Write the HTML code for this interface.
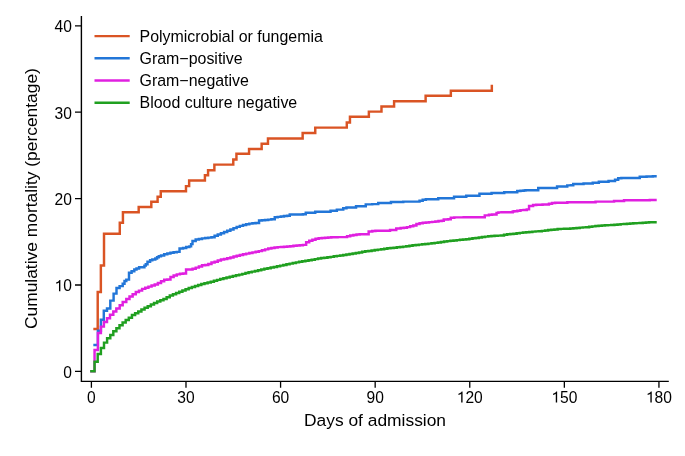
<!DOCTYPE html>
<html><head><meta charset="utf-8"><title>Cumulative mortality</title><style>
html,body{margin:0;padding:0;background:#fff;width:685px;height:456px;overflow:hidden;}
svg{display:block;will-change:transform;}
</style></head><body>
<svg width="685" height="456" viewBox="0 0 685 456">
<rect width="685" height="456" fill="#fff"/>
<path d="M81.4,16 L81.4,381.4 L668.8,381.4" fill="none" stroke="#000" stroke-width="1.4" stroke-linejoin="miter" stroke-linecap="butt"/>
<path d="M75,371.40 L81.4,371.40 M75,285.00 L81.4,285.00 M75,198.60 L81.4,198.60 M75,112.20 L81.4,112.20 M75,25.80 L81.4,25.80 M91.40,381.4 L91.40,387.8 M185.99,381.4 L185.99,387.8 M280.58,381.4 L280.58,387.8 M375.17,381.4 L375.17,387.8 M469.76,381.4 L469.76,387.8 M564.35,381.4 L564.35,387.8 M658.94,381.4 L658.94,387.8" stroke="#000" stroke-width="1.3" fill="none"/>
<g font-family='"Liberation Sans", sans-serif' font-size="15.6" fill="#000">
<text x="63.22" y="377.70">0</text>
<path d="M763,0 L583,0 L583,1150 Q518,1090 412,1050 Q307,1012 223,995 L223,1175 Q374,1205 487,1290 Q600,1377 647,1472 L763,1472 Z" transform="translate(54.55,291.30) scale(0.007617,-0.007617)"/>
<text x="63.22" y="291.30">0</text>
<text x="54.55" y="204.90">20</text>
<text x="54.55" y="118.50">30</text>
<text x="54.55" y="32.10">40</text>
<text x="87.06" y="402.60">0</text>
<text x="177.31" y="402.60">30</text>
<text x="271.90" y="402.60">60</text>
<text x="366.49" y="402.60">90</text>
<path d="M763,0 L583,0 L583,1150 Q518,1090 412,1050 Q307,1012 223,995 L223,1175 Q374,1205 487,1290 Q600,1377 647,1472 L763,1472 Z" transform="translate(456.75,402.60) scale(0.007617,-0.007617)"/>
<text x="465.42" y="402.60">20</text>
<path d="M763,0 L583,0 L583,1150 Q518,1090 412,1050 Q307,1012 223,995 L223,1175 Q374,1205 487,1290 Q600,1377 647,1472 L763,1472 Z" transform="translate(551.34,402.60) scale(0.007617,-0.007617)"/>
<text x="560.01" y="402.60">50</text>
<path d="M763,0 L583,0 L583,1150 Q518,1090 412,1050 Q307,1012 223,995 L223,1175 Q374,1205 487,1290 Q600,1377 647,1472 L763,1472 Z" transform="translate(645.93,402.60) scale(0.007617,-0.007617)"/>
<text x="654.60" y="402.60">80</text>
</g>
<text x="375.0" y="425.9" text-anchor="middle" font-family='"Liberation Sans", sans-serif' font-size="17.4" fill="#000">Days of admission</text>
<text transform="translate(37.1,198.6) rotate(-90)" text-anchor="middle" font-family='"Liberation Sans", sans-serif' font-size="17.4" fill="#000">Cumulative mortality (percentage)</text>
<path d="M94.55,329.00 L97.71,329.00 L97.71,292.00 L100.86,292.00 L100.86,265.50 L104.01,265.50 L104.01,233.70 L119.78,233.70 L119.78,222.80 L122.93,222.80 L122.93,212.20 L138.69,212.20 L138.69,207.00 L151.31,207.00 L151.31,201.70 L157.61,201.70 L157.61,196.70 L160.77,196.70 L160.77,191.20 L185.99,191.20 L185.99,186.10 L189.14,186.10 L189.14,180.40 L204.91,180.40 L204.91,175.30 L208.06,175.30 L208.06,170.20 L214.37,170.20 L214.37,164.60 L233.28,164.60 L233.28,159.50 L236.44,159.50 L236.44,153.80 L249.05,153.80 L249.05,148.90 L261.66,148.90 L261.66,143.70 L267.97,143.70 L267.97,138.40 L302.65,138.40 L302.65,132.90 L315.26,132.90 L315.26,127.60 L346.79,127.60 L346.79,122.40 L349.95,122.40 L349.95,116.80 L368.86,116.80 L368.86,111.60 L381.48,111.60 L381.48,106.50 L394.09,106.50 L394.09,101.20 L425.62,101.20 L425.62,95.70 L450.84,95.70 L450.84,90.70 L491.83,90.70 L491.83,85.90" fill="none" stroke="#da5424" stroke-width="2.45" stroke-linecap="square" stroke-linejoin="miter"/>
<path d="M94.55,345.00 L97.90,345.00 L97.90,330.80 L100.90,330.80 L100.90,319.80 L103.80,319.80 L103.80,310.70 L107.00,310.70 L107.00,308.50 L110.30,308.50 L110.30,300.60 L113.60,300.60 L113.60,293.60 L116.50,293.60 L116.50,287.90 L119.60,287.90 L119.60,286.10 L122.70,286.10 L122.70,283.70 L124.50,283.70 L124.50,281.00 L126.30,281.00 L126.30,279.60 L129.00,279.60 L129.00,272.80 L131.60,272.80 L131.60,271.20 L134.30,271.20 L134.30,269.50 L136.50,269.50 L136.50,268.40 L139.10,268.40 L139.10,267.30 L144.40,267.30 L144.40,265.60 L145.80,265.60 L145.80,264.30 L147.50,264.30 L147.50,261.70 L150.10,261.70 L150.10,260.30 L152.30,260.30 L152.30,259.40 L155.30,259.40 L155.30,258.50 L157.10,258.50 L157.10,257.20 L158.80,257.20 L158.80,256.30 L161.00,256.30 L161.00,255.50 L164.15,255.50 L164.15,254.17 L167.31,254.17 L167.31,253.45 L170.46,253.45 L170.46,252.80 L173.61,252.80 L173.61,252.29 L176.76,252.29 L176.76,251.89 L179.55,251.89 L179.55,248.46 L183.07,248.46 L183.07,248.04 L186.22,248.04 L186.22,246.90 L189.38,246.90 L189.38,246.37 L191.10,246.37 L191.10,244.10 L192.50,244.10 L192.50,241.06 L195.68,241.06 L195.68,239.46 L198.84,239.46 L198.84,238.92 L201.99,238.92 L201.99,238.37 L205.14,238.37 L205.14,237.98 L208.29,237.98 L208.29,237.61 L211.45,237.61 L211.45,237.24 L214.60,237.24 L214.60,235.77 L217.75,235.77 L217.75,234.47 L220.91,234.47 L220.91,233.25 L224.06,233.25 L224.06,232.00 L227.21,232.00 L227.21,230.72 L230.37,230.72 L230.37,229.42 L233.52,229.42 L233.52,228.13 L236.67,228.13 L236.67,226.89 L239.82,226.89 L239.82,225.85 L242.98,225.85 L242.98,225.06 L246.13,225.06 L246.13,224.27 L249.28,224.27 L249.28,223.61 L252.44,223.61 L252.44,223.27 L255.59,223.27 L255.59,222.92 L259.05,222.92 L259.05,220.49 L261.90,220.49 L261.90,220.21 L265.05,220.21 L265.05,219.92 L268.20,219.92 L268.20,219.62 L271.35,219.62 L271.35,219.33 L274.75,219.33 L274.75,217.25 L277.66,217.25 L277.66,216.87 L280.81,216.87 L280.81,216.48 L283.97,216.48 L283.97,216.09 L287.12,216.09 L287.12,215.73 L289.75,215.73 L289.75,214.48 L302.89,214.48 L302.89,214.32 L305.75,214.32 L305.75,212.70 L315.25,212.70 L315.25,211.80 L330.55,211.80 L330.55,210.80 L336.85,210.80 L336.85,209.60 L343.25,209.60 L343.25,208.20 L346.45,208.20 L346.45,207.50 L356.05,207.50 L356.05,206.20 L365.75,206.20 L365.75,204.35 L372.25,204.35 L372.25,204.14 L378.25,204.14 L378.25,202.90 L390.95,202.90 L390.95,202.00 L403.25,202.00 L403.25,201.60 L419.55,201.60 L419.55,200.68 L422.70,200.68 L422.70,199.74 L425.85,199.74 L425.85,199.30 L438.25,199.30 L438.25,198.20 L454.05,198.20 L454.05,196.70 L466.25,196.70 L466.25,195.80 L479.45,195.80 L479.45,193.80 L491.55,193.80 L491.55,193.00 L504.25,193.00 L504.25,192.30 L517.25,192.30 L517.25,190.91 L520.44,190.91 L520.44,190.70 L523.60,190.70 L523.60,190.53 L525.50,190.53 L525.50,190.30 L538.25,190.30 L538.25,188.00 L557.05,188.00 L557.05,186.58 L561.43,186.58 L561.43,186.40 L567.25,186.40 L567.25,185.39 L570.89,185.39 L570.89,185.17 L573.25,185.17 L573.25,184.00 L583.55,184.00 L583.55,183.40 L592.75,183.40 L592.75,182.70 L598.85,182.70 L598.85,181.80 L608.55,181.80 L608.55,180.95 L615.03,180.95 L615.03,179.78 L618.19,179.78 L618.19,178.26 L621.34,178.26 L621.34,177.90 L639.75,177.90 L639.75,176.66 L646.56,176.66 L646.56,176.49 L652.87,176.49 L652.87,176.33 L655.50,176.33" fill="none" stroke="#2276d8" stroke-width="2.45" stroke-linecap="square" stroke-linejoin="miter"/>
<path d="M91.40,371.30 L94.55,371.30 L94.55,349.90 L97.90,349.90 L97.90,332.90 L100.90,332.90 L100.90,326.60 L103.90,326.60 L103.90,322.00 L107.00,322.00 L107.00,318.30 L110.00,318.30 L110.00,314.80 L113.30,314.80 L113.30,311.50 L116.30,311.50 L116.30,308.50 L119.70,308.50 L119.70,305.20 L122.70,305.20 L122.70,302.00 L126.30,302.00 L126.30,299.00 L129.50,299.00 L129.50,296.40 L132.65,296.40 L132.65,294.32 L135.81,294.32 L135.81,291.99 L138.96,291.99 L138.96,290.63 L142.11,290.63 L142.11,288.86 L145.26,288.86 L145.26,287.65 L148.42,287.65 L148.42,286.61 L151.57,286.61 L151.57,285.40 L154.72,285.40 L154.72,284.43 L157.88,284.43 L157.88,283.05 L161.03,283.05 L161.03,281.32 L164.18,281.32 L164.18,279.82 L167.34,279.82 L167.34,279.48 L170.49,279.48 L170.49,276.97 L173.64,276.97 L173.64,275.42 L176.79,275.42 L176.79,274.35 L179.95,274.35 L179.95,273.70 L183.10,273.70 L183.10,273.50 L186.05,273.50 L186.05,269.55 L192.56,269.55 L192.56,268.65 L195.71,268.65 L195.71,267.60 L198.87,267.60 L198.87,266.51 L202.02,266.51 L202.02,265.17 L205.17,265.17 L205.17,264.93 L208.32,264.93 L208.32,264.07 L211.48,264.07 L211.48,262.56 L214.63,262.56 L214.63,261.76 L217.78,261.76 L217.78,260.52 L220.94,260.52 L220.94,259.44 L224.09,259.44 L224.09,258.90 L227.24,258.90 L227.24,258.23 L230.40,258.23 L230.40,257.42 L233.55,257.42 L233.55,256.59 L236.70,256.59 L236.70,255.69 L239.85,255.69 L239.85,254.91 L243.01,254.91 L243.01,254.26 L246.16,254.26 L246.16,253.62 L249.31,253.62 L249.31,252.99 L252.47,252.99 L252.47,252.36 L255.62,252.36 L255.62,251.73 L258.77,251.73 L258.77,251.11 L261.93,251.11 L261.93,250.32 L265.08,250.32 L265.08,249.37 L268.23,249.37 L268.23,248.50 L271.38,248.50 L271.38,248.00 L274.54,248.00 L274.54,247.50 L277.69,247.50 L277.69,247.11 L280.84,247.11 L280.84,246.90 L284.00,246.90 L284.00,246.68 L287.15,246.68 L287.15,246.46 L290.30,246.46 L290.30,246.16 L293.46,246.16 L293.46,245.83 L296.61,245.83 L296.61,245.49 L299.76,245.49 L299.76,245.18 L302.91,245.18 L302.91,244.89 L306.15,244.89 L306.15,242.19 L309.22,242.19 L309.22,240.75 L312.37,240.75 L312.37,239.73 L315.53,239.73 L315.53,238.72 L318.68,238.72 L318.68,238.16 L321.83,238.16 L321.83,237.92 L324.99,237.92 L324.99,237.68 L328.14,237.68 L328.14,237.50 L331.29,237.50 L331.29,237.32 L337.60,237.32 L337.60,237.12 L347.06,237.12 L347.06,236.19 L350.21,236.19 L350.21,235.57 L353.36,235.57 L353.36,235.00 L356.52,235.00 L356.52,234.51 L359.67,234.51 L359.67,234.30 L368.65,234.30 L368.65,231.52 L372.28,231.52 L372.28,230.92 L375.43,230.92 L375.43,230.70 L390.05,230.70 L390.05,230.00 L396.25,230.00 L396.25,228.49 L400.66,228.49 L400.66,228.09 L403.81,228.09 L403.81,227.66 L406.96,227.66 L406.96,227.13 L410.12,227.13 L410.12,226.32 L413.27,226.32 L413.27,225.43 L416.42,225.43 L416.42,223.99 L419.58,223.99 L419.58,223.28 L422.73,223.28 L422.73,222.84 L425.88,222.84 L425.88,222.41 L429.04,222.41 L429.04,222.13 L432.19,222.13 L432.19,221.86 L435.34,221.86 L435.34,221.47 L438.49,221.47 L438.49,221.07 L441.65,221.07 L441.65,220.79 L443.75,220.79 L443.75,219.46 L447.95,219.46 L447.95,219.20 L450.75,219.20 L450.75,217.68 L454.26,217.68 L454.26,217.37 L463.72,217.37 L463.72,217.21 L484.75,217.21 L484.75,215.35 L488.94,215.35 L488.94,214.65 L492.10,214.65 L492.10,214.44 L496.55,214.44 L496.55,212.87 L498.40,212.87 L498.40,212.38 L501.55,212.38 L501.55,212.20 L512.75,212.20 L512.75,211.53 L514.17,211.53 L514.17,211.17 L517.32,211.17 L517.32,210.66 L520.47,210.66 L520.47,210.13 L523.63,210.13 L523.63,209.90 L526.78,209.90 L526.78,209.38 L529.05,209.38 L529.05,206.00 L533.08,206.00 L533.08,205.09 L536.24,205.09 L536.24,204.69 L542.54,204.69 L542.54,204.47 L548.95,204.47 L548.95,203.72 L552.00,203.72 L552.00,203.06 L555.16,203.06 L555.16,202.70 L567.35,202.70 L567.35,202.20 L595.55,202.20 L595.55,201.60 L614.05,201.60 L614.05,200.90 L624.05,200.90 L624.05,200.19 L649.75,200.19 L649.75,200.03 L655.50,200.03" fill="none" stroke="#e020e0" stroke-width="2.45" stroke-linecap="square" stroke-linejoin="miter"/>
<path d="M91.40,371.30 L94.55,371.30 L94.55,361.80 L97.70,361.80 L97.70,353.90 L100.90,353.90 L100.90,348.00 L104.00,348.00 L104.00,342.60 L107.10,342.60 L107.10,338.30 L110.30,338.30 L110.30,335.00 L113.30,335.00 L113.30,331.30 L116.40,331.30 L116.40,328.30 L119.50,328.30 L119.50,325.30 L122.60,325.30 L122.60,322.40 L125.70,322.40 L125.70,320.00 L128.80,320.00 L128.80,317.80 L131.95,317.80 L131.95,315.08 L135.11,315.08 L135.11,313.31 L138.26,313.31 L138.26,311.41 L141.41,311.41 L141.41,309.54 L144.56,309.54 L144.56,307.82 L147.72,307.82 L147.72,306.15 L150.87,306.15 L150.87,304.58 L154.02,304.58 L154.02,303.05 L157.18,303.05 L157.18,301.58 L160.33,301.58 L160.33,300.24 L163.48,300.24 L163.48,298.97 L166.64,298.97 L166.64,297.17 L169.79,297.17 L169.79,295.48 L172.94,295.48 L172.94,294.25 L176.09,294.25 L176.09,293.01 L179.25,293.01 L179.25,291.76 L182.40,291.76 L182.40,290.50 L185.55,290.50 L185.55,289.22 L188.71,289.22 L188.71,288.05 L191.86,288.05 L191.86,286.96 L195.01,286.96 L195.01,285.96 L198.17,285.96 L198.17,284.98 L201.32,284.98 L201.32,284.09 L204.47,284.09 L204.47,283.25 L207.62,283.25 L207.62,282.49 L210.78,282.49 L210.78,281.65 L213.93,281.65 L213.93,280.74 L217.08,280.74 L217.08,279.89 L220.24,279.89 L220.24,279.08 L223.39,279.08 L223.39,278.31 L226.54,278.31 L226.54,277.57 L229.70,277.57 L229.70,276.76 L232.85,276.76 L232.85,275.95 L236.00,275.95 L236.00,275.30 L239.15,275.30 L239.15,274.62 L242.31,274.62 L242.31,273.87 L245.46,273.87 L245.46,273.07 L248.61,273.07 L248.61,272.26 L251.77,272.26 L251.77,271.63 L254.92,271.63 L254.92,271.04 L258.07,271.04 L258.07,270.24 L261.23,270.24 L261.23,269.44 L264.38,269.44 L264.38,268.80 L267.53,268.80 L267.53,268.17 L270.68,268.17 L270.68,267.57 L273.84,267.57 L273.84,266.95 L276.99,266.95 L276.99,266.30 L280.14,266.30 L280.14,265.62 L283.30,265.62 L283.30,264.93 L286.45,264.93 L286.45,264.27 L289.60,264.27 L289.60,263.62 L292.76,263.62 L292.76,262.98 L295.91,262.98 L295.91,262.36 L299.06,262.36 L299.06,261.82 L302.21,261.82 L302.21,261.28 L305.37,261.28 L305.37,260.75 L308.52,260.75 L308.52,260.24 L311.67,260.24 L311.67,259.75 L314.83,259.75 L314.83,259.14 L317.98,259.14 L317.98,258.49 L321.13,258.49 L321.13,258.07 L324.29,258.07 L324.29,257.70 L327.44,257.70 L327.44,257.32 L330.59,257.32 L330.59,256.87 L333.75,256.87 L333.75,256.33 L336.90,256.33 L336.90,255.89 L340.05,255.89 L340.05,255.51 L343.20,255.51 L343.20,255.05 L346.36,255.05 L346.36,254.57 L349.51,254.57 L349.51,254.08 L352.66,254.08 L352.66,253.59 L355.82,253.59 L355.82,252.99 L358.97,252.99 L358.97,252.40 L362.12,252.40 L362.12,251.83 L365.28,251.83 L365.28,251.34 L368.43,251.34 L368.43,250.91 L371.58,250.91 L371.58,250.48 L374.73,250.48 L374.73,250.05 L377.89,250.05 L377.89,249.62 L381.04,249.62 L381.04,249.18 L384.19,249.18 L384.19,248.70 L387.35,248.70 L387.35,248.25 L390.50,248.25 L390.50,247.98 L393.65,247.98 L393.65,247.68 L396.81,247.68 L396.81,247.30 L399.96,247.30 L399.96,246.95 L403.11,246.95 L403.11,246.63 L406.26,246.63 L406.26,246.16 L409.42,246.16 L409.42,245.68 L412.57,245.68 L412.57,245.30 L415.72,245.30 L415.72,244.94 L418.88,244.94 L418.88,244.61 L422.03,244.61 L422.03,244.29 L425.18,244.29 L425.18,243.97 L428.34,243.97 L428.34,243.62 L431.49,243.62 L431.49,243.24 L434.64,243.24 L434.64,242.86 L437.79,242.86 L437.79,242.48 L440.95,242.48 L440.95,241.95 L444.10,241.95 L444.10,241.43 L447.25,241.43 L447.25,241.10 L450.41,241.10 L450.41,240.78 L453.56,240.78 L453.56,240.46 L456.71,240.46 L456.71,240.14 L459.87,240.14 L459.87,239.81 L463.02,239.81 L463.02,239.49 L466.17,239.49 L466.17,239.17 L469.32,239.17 L469.32,238.76 L472.48,238.76 L472.48,238.32 L475.63,238.32 L475.63,237.94 L478.78,237.94 L478.78,237.54 L481.94,237.54 L481.94,237.04 L485.09,237.04 L485.09,236.63 L488.24,236.63 L488.24,236.30 L491.40,236.30 L491.40,236.05 L494.55,236.05 L494.55,235.84 L497.70,235.84 L497.70,235.62 L500.85,235.62 L500.85,235.40 L504.01,235.40 L504.01,234.83 L507.16,234.83 L507.16,234.28 L510.31,234.28 L510.31,234.06 L513.47,234.06 L513.47,233.77 L516.62,233.77 L516.62,233.28 L519.77,233.28 L519.77,232.87 L522.93,232.87 L522.93,232.55 L526.08,232.55 L526.08,232.23 L529.23,232.23 L529.23,231.90 L532.38,231.90 L532.38,231.63 L535.54,231.63 L535.54,231.37 L538.69,231.37 L538.69,231.15 L541.84,231.15 L541.84,230.88 L545.00,230.88 L545.00,230.45 L548.15,230.45 L548.15,230.06 L551.30,230.06 L551.30,229.74 L554.46,229.74 L554.46,229.41 L557.61,229.41 L557.61,229.08 L560.76,229.08 L560.76,228.86 L563.91,228.86 L563.91,228.68 L570.22,228.68 L570.22,228.43 L573.37,228.43 L573.37,228.22 L576.53,228.22 L576.53,227.95 L579.68,227.95 L579.68,227.63 L582.83,227.63 L582.83,227.37 L585.99,227.37 L585.99,227.16 L589.14,227.16 L589.14,226.78 L592.29,226.78 L592.29,226.35 L595.44,226.35 L595.44,226.01 L598.60,226.01 L598.60,225.69 L601.75,225.69 L601.75,225.50 L604.90,225.50 L604.90,225.32 L608.06,225.32 L608.06,225.14 L611.21,225.14 L611.21,224.96 L614.36,224.96 L614.36,224.70 L617.52,224.70 L617.52,224.41 L620.67,224.41 L620.67,224.12 L623.82,224.12 L623.82,223.90 L626.97,223.90 L626.97,223.69 L630.13,223.69 L630.13,223.48 L633.28,223.48 L633.28,223.30 L636.43,223.30 L636.43,223.11 L639.59,223.11 L639.59,222.92 L642.74,222.92 L642.74,222.71 L645.89,222.71 L645.89,222.49 L649.05,222.49 L649.05,222.32 L655.50,222.32" fill="none" stroke="#20a020" stroke-width="2.45" stroke-linecap="square" stroke-linejoin="miter"/>
<line x1="94.5" y1="36.10" x2="129.7" y2="36.10" stroke="#da5424" stroke-width="2.4"/>
<text x="139.5" y="41.60" font-family='"Liberation Sans", sans-serif' font-size="15.95" fill="#000">Polymicrobial or fungemia</text>
<line x1="94.5" y1="58.30" x2="129.7" y2="58.30" stroke="#2276d8" stroke-width="2.4"/>
<text x="139.5" y="63.80" font-family='"Liberation Sans", sans-serif' font-size="15.95" fill="#000">Gram−positive</text>
<line x1="94.5" y1="80.50" x2="129.7" y2="80.50" stroke="#e020e0" stroke-width="2.4"/>
<text x="139.5" y="86.00" font-family='"Liberation Sans", sans-serif' font-size="15.95" fill="#000">Gram−negative</text>
<line x1="94.5" y1="102.70" x2="129.7" y2="102.70" stroke="#20a020" stroke-width="2.4"/>
<text x="139.5" y="108.20" font-family='"Liberation Sans", sans-serif' font-size="15.95" fill="#000">Blood culture negative</text>
</svg>
</body></html>
